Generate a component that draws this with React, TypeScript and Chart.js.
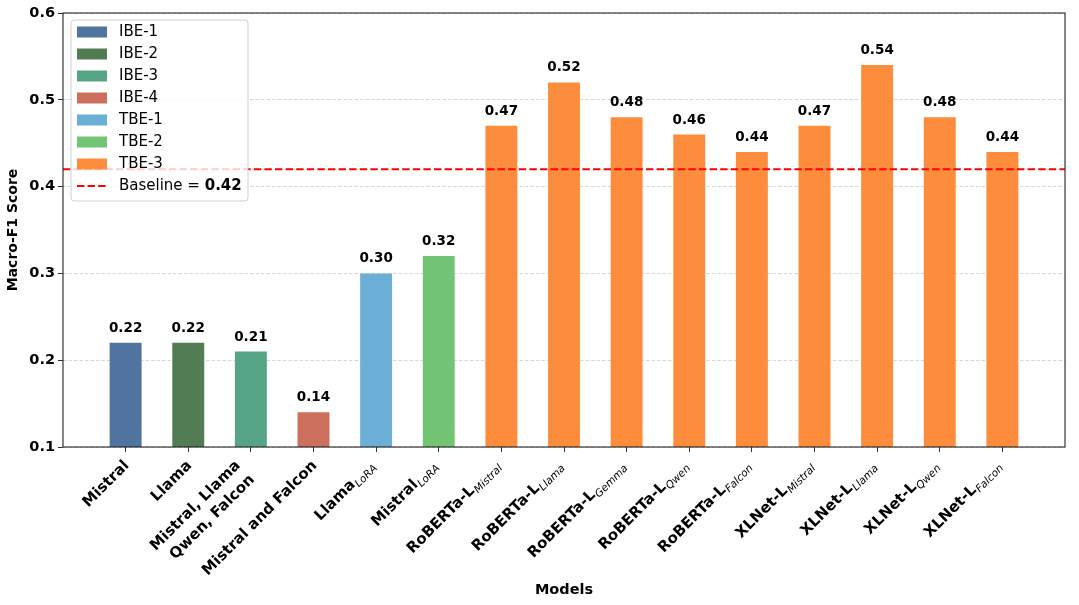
import React, { useEffect, useRef } from "react";
import { Chart, registerables } from "chart.js";

Chart.register(...registerables);

const MODELS = [
  "Mistral",
  "Llama",
  "Mistral, Llama\nQwen, Falcon",
  "Mistral and Falcon",
  "Llama",
  "Mistral",
  "RoBERTa-L",
  "RoBERTa-L",
  "RoBERTa-L",
  "RoBERTa-L",
  "RoBERTa-L",
  "XLNet-L",
  "XLNet-L",
  "XLNet-L",
  "XLNet-L",
];
const SUBSCRIPTS = ["", "", "", "", "LoRA", "LoRA", "Mistral", "Llama", "Gemma", "Qwen", "Falcon", "Mistral", "Llama", "Qwen", "Falcon"];
const SCORES = [0.22, 0.22, 0.21, 0.14, 0.3, 0.32, 0.47, 0.52, 0.48, 0.46, 0.44, 0.47, 0.54, 0.48, 0.44];
const BAR_GROUPS = ["IBE-1", "IBE-2", "IBE-3", "IBE-4", "TBE-1", "TBE-2", "TBE-3", "TBE-3", "TBE-3", "TBE-3", "TBE-3", "TBE-3", "TBE-3", "TBE-3", "TBE-3"];
const GROUP_NAMES = ["IBE-1", "IBE-2", "IBE-3", "IBE-4", "TBE-1", "TBE-2", "TBE-3"];
const GROUP_COLORS = ["#50739f", "#527c53", "#55a485", "#cc6f5d", "#6baed6", "#74c476", "#fd8d3c"];
const BASELINE = 0.42;
const Y_TICKS = [0.1, 0.2, 0.3, 0.4, 0.5, 0.6];

const FONT = "'DejaVu Sans', sans-serif";

const customPlugin = {
  id: "custom",
  afterDatasetsDraw(chart: any) {
    const { ctx, chartArea: ca, scales } = chart;
    const y = scales.y.getPixelForValue(BASELINE);
    ctx.save();
    ctx.strokeStyle = "red";
    ctx.lineWidth = 2;
    ctx.setLineDash([7.4, 3.2]);
    ctx.beginPath();
    ctx.moveTo(ca.left, y);
    ctx.lineTo(ca.right, y);
    ctx.stroke();
    ctx.setLineDash([]);
    // value labels
    const meta = chart.getDatasetMeta(0);
    ctx.fillStyle = "#000";
    ctx.font = `bold 13.5px ${FONT}`;
    ctx.textAlign = "center";
    ctx.textBaseline = "alphabetic";
    meta.data.forEach((el: any, i: number) => {
      ctx.fillText(SCORES[i].toFixed(2), el.x, el.y - 11);
    });
    ctx.restore();
  },
  afterDraw(chart: any) {
    const { ctx, chartArea: ca, scales } = chart;
    ctx.save();
    // frame
    ctx.strokeStyle = "#222";
    ctx.lineWidth = 1.1;
    ctx.strokeRect(ca.left, ca.top, ca.right - ca.left, ca.bottom - ca.top);

    // x tick labels
    ctx.fillStyle = "#000";
    const lh = 20;
    MODELS.forEach((label, i) => {
      const x = scales.x.getPixelForValue(i);
      const lines = label.split("\n");
      const n = lines.length;
      const sub = SUBSCRIPTS[i];
      const ox = x - 4 - (sub ? 5 : 0) - 0.707 * (n - 1) * lh;
      const oy = ca.bottom + 11;
      ctx.save();
      ctx.translate(ox, oy);
      ctx.rotate(-Math.PI / 4);
      ctx.textBaseline = "alphabetic";
      ctx.textAlign = "right";
      lines.forEach((line, k) => {
        const by = 11.5 + k * lh;
        let endX = 0;
        if (k === n - 1 && sub) {
          ctx.font = `italic 10.5px ${FONT}`;
          const ws = ctx.measureText(sub).width;
          ctx.fillText(sub, 0, by + 3.5);
          endX = -ws - 0.5;
        }
        ctx.font = `bold 15px ${FONT}`;
        ctx.fillText(line, endX, by);
      });
      ctx.restore();
    });

    // legend
    const lx = ca.left + 8;
    const ly = ca.top + 7;
    const lw = 177;
    const lhgt = 181;
    ctx.beginPath();
    ctx.roundRect(lx, ly, lw, lhgt, 3);
    ctx.fillStyle = "rgba(255,255,255,0.8)";
    ctx.fill();
    ctx.strokeStyle = "rgba(204,204,204,0.9)";
    ctx.lineWidth = 1;
    ctx.stroke();
    ctx.textAlign = "left";
    ctx.textBaseline = "middle";
    GROUP_NAMES.forEach((g, k) => {
      const cy = ly + 12 + k * 22;
      ctx.fillStyle = GROUP_COLORS[k];
      ctx.fillRect(lx + 6, cy - 5.5, 30, 11);
      ctx.fillStyle = "#000";
      ctx.font = `15px ${FONT}`;
      ctx.fillText(g, lx + 48, cy);
    });
    const cyB = ly + 12 + GROUP_NAMES.length * 22;
    ctx.strokeStyle = "red";
    ctx.lineWidth = 2;
    ctx.setLineDash([7.4, 3.2]);
    ctx.beginPath();
    ctx.moveTo(lx + 6, cyB);
    ctx.lineTo(lx + 36, cyB);
    ctx.stroke();
    ctx.setLineDash([]);
    ctx.fillStyle = "#000";
    ctx.font = `15px ${FONT}`;
    const pre = "Baseline = ";
    ctx.fillText(pre, lx + 48, cyB);
    const wp = ctx.measureText(pre).width;
    ctx.font = `bold 15px ${FONT}`;
    ctx.fillText(BASELINE.toFixed(2), lx + 48 + wp, cyB);
    ctx.restore();
  },
};

export default function App() {
  const ref = useRef<HTMLCanvasElement | null>(null);
  useEffect(() => {
    document.body.style.margin = "0";
    const canvas = ref.current!;
    const chart = new Chart(canvas, {
      type: "bar",
      data: {
        datasets: [
          {
            data: SCORES.map((v, i) => ({ x: i, y: v })),
            backgroundColor: BAR_GROUPS.map((g) => GROUP_COLORS[GROUP_NAMES.indexOf(g)]),
            barPercentage: 0.51,
            categoryPercentage: 1,
          } as any,
        ],
      },
      options: {
        responsive: false,
        animation: false,
        layout: { padding: { top: 13, right: 14, left: 0, bottom: 0 } },
        plugins: { legend: { display: false }, tooltip: { enabled: false } },
        scales: {
          x: {
            type: "linear",
            min: -1,
            max: 15,
            offset: false,
            afterBuildTicks: (s: any) => {
              s.ticks = MODELS.map((_, i) => ({ value: i }));
            },
            ticks: { display: false, stepSize: 1 },
            grid: { display: true, offset: false, drawOnChartArea: false, drawTicks: true, tickLength: 5, tickColor: "#333", tickWidth: 1 },
            border: { display: false },
            title: {
              display: true,
              text: "Models",
              color: "#000",
              font: { family: FONT, size: 14.5, weight: "bold" },
              padding: { top: 0, bottom: 6 },
            },
            afterFit: (s: any) => {
              s.height = 158;
            },
          },
          y: {
            min: 0.1,
            max: 0.6,
            afterBuildTicks: (s: any) => {
              s.ticks = Y_TICKS.map((v) => ({ value: v }));
            },
            ticks: {
              callback: (v: any) => Number(v).toFixed(1),
              color: "#000",
              font: { family: FONT, size: 14.5, weight: "bold" },
              padding: 3,
            },
            grid: {
              color: "rgba(0,0,0,0.2)",
              lineWidth: 0.8,
              tickLength: 5,
              tickColor: "#333",
              tickWidth: 1,
              tickBorderDash: [],
            },
            border: { display: false, dash: [3.5, 2] },
            title: {
              display: true,
              text: "Macro-F1 Score",
              color: "#000",
              font: { family: FONT, size: 14, weight: "bold" },
              padding: { top: 5, bottom: 0 },
            },
            afterFit: (s: any) => {
              s.width = 63;
            },
          },
        },
      } as any,
      plugins: [customPlugin],
    });
    return () => chart.destroy();
  }, []);
  return (
    <div style={{ width: 1079, height: 605 }}>
      <canvas ref={ref} width={1079} height={605} style={{ display: "block" }} />
    </div>
  );
}
